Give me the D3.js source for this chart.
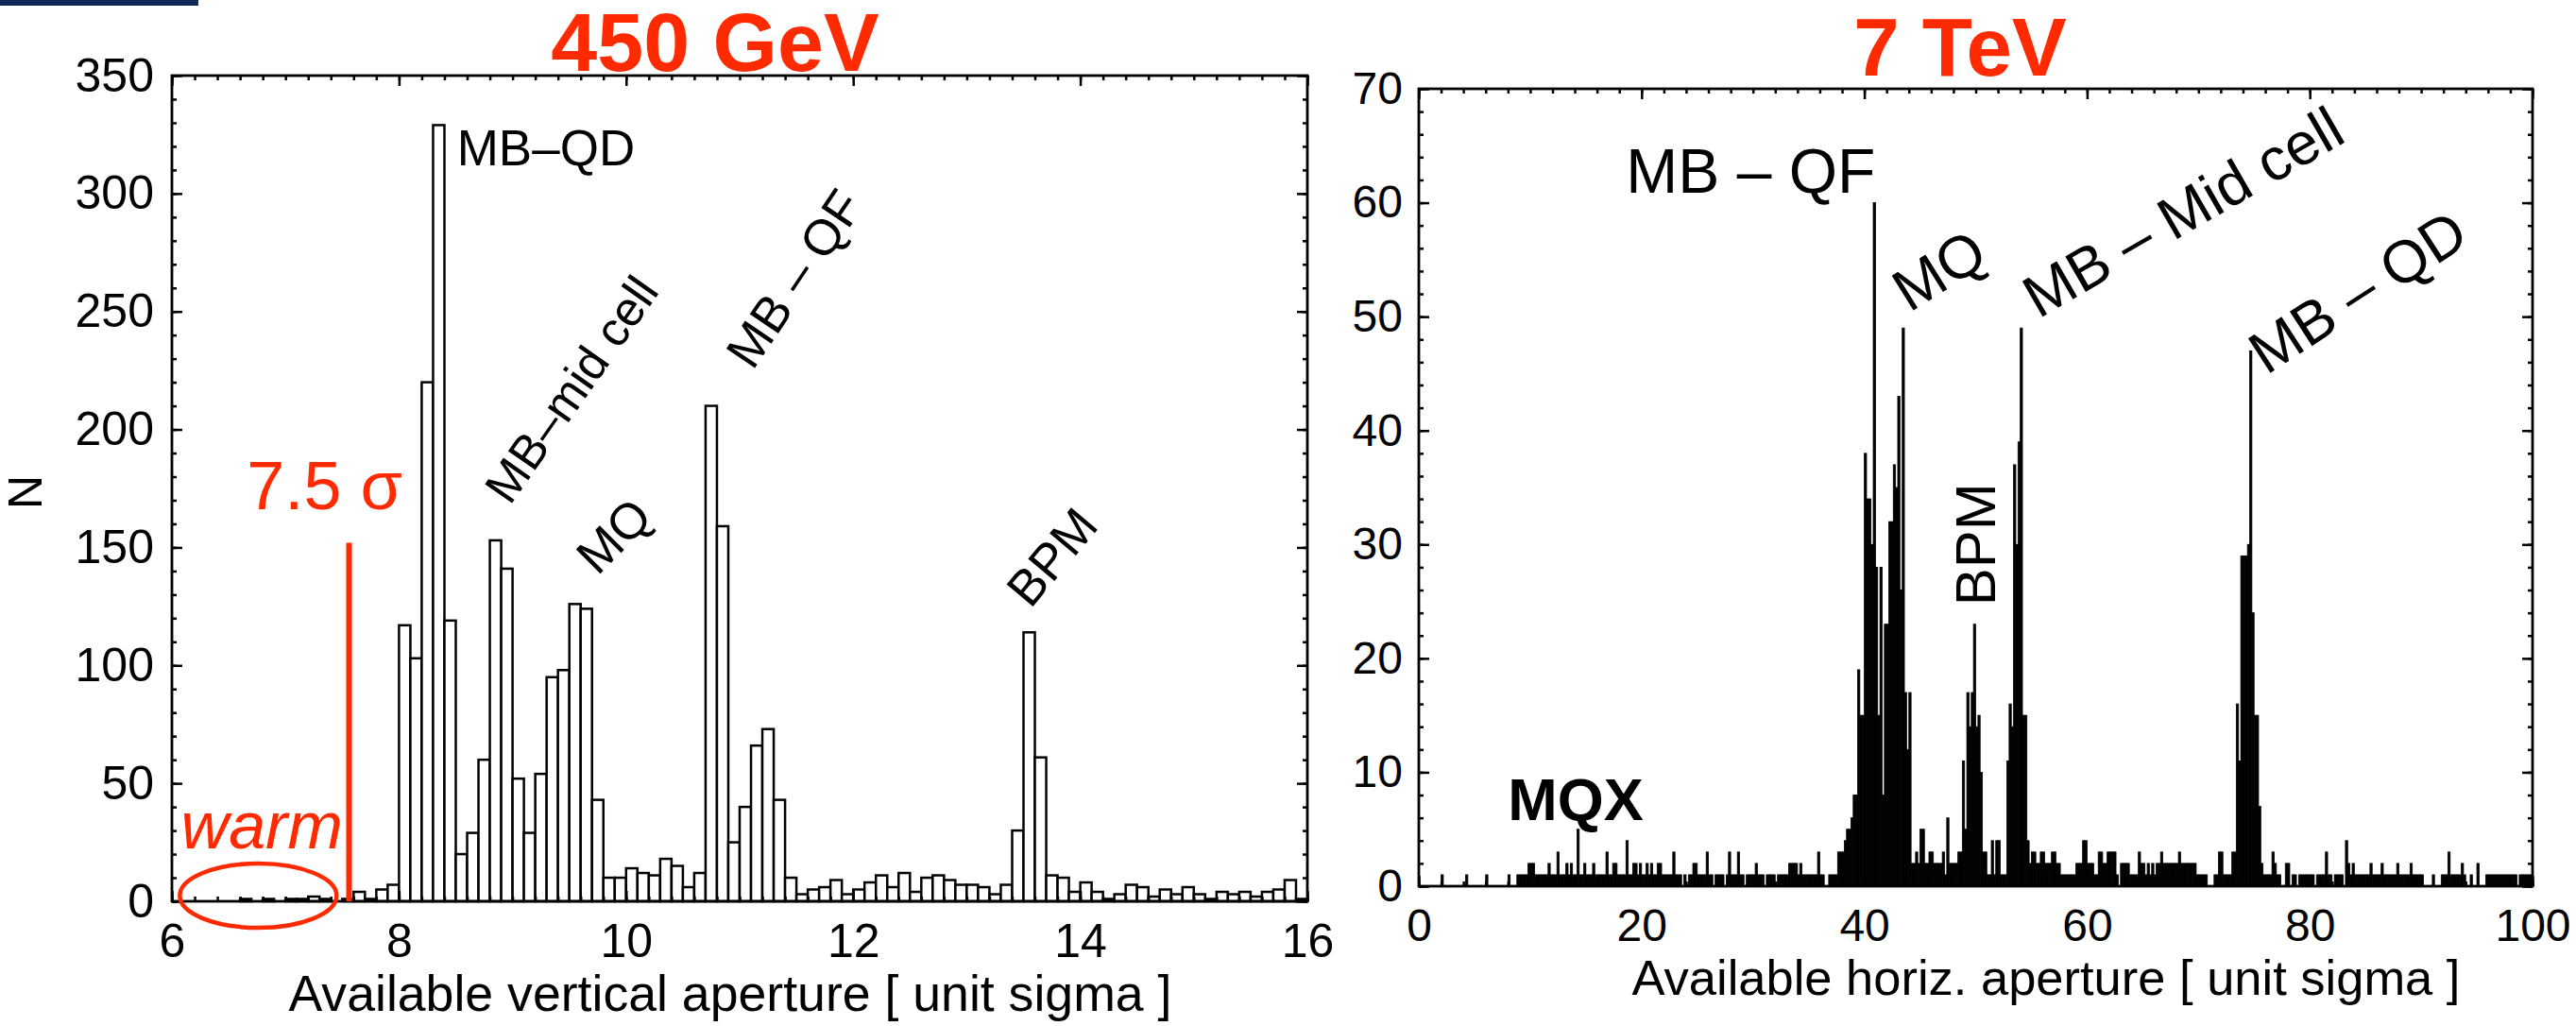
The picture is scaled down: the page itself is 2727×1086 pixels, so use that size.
<!DOCTYPE html>
<html>
<head>
<meta charset="utf-8">
<script src="https://cdn.jsdelivr.net/npm/d3@7"></script>
<style>
  html, body { margin: 0; padding: 0; background: #fff; }
  svg { display: block; font-family: "Liberation Sans", Arial, Helvetica, sans-serif; }
</style>
</head>
<body>
<svg id="chart" width="2727" height="1086"></svg>
<script>
// ---- data ----

// 450 GeV: counts per 0.1 sigma bin, bins [6.0, 6.1), [6.1, 6.2) ... [15.9, 16.0)
const vertStart = 6.0;
const vertStep = 0.1;
const vertCounts = [
  0, 0, 0, 0, 0, 0, 1, 0, 1, 0,
  1, 1, 2, 1, 0, 1, 4, 1, 5, 7,
  117, 103, 220, 329, 119, 20, 29, 60, 153, 141,
  52, 29, 54, 95, 98, 126, 124, 43, 10, 10,
  14, 12, 11, 18, 15, 6, 12, 210, 159, 25,
  40, 66, 73, 43, 10, 3, 5, 6, 9, 3,
  5, 8, 11, 6, 12, 4, 10, 11, 9, 7,
  7, 6, 3, 7, 30, 114, 61, 11, 10, 4,
  8, 4, 1, 3, 7, 6, 2, 5, 3, 6,
  3, 1, 4, 3, 4, 2, 4, 5, 9, 1
];

// 7 TeV: counts per 0.2 sigma bin, bins [0, 0.2), [0.2, 0.4) ... up to 100
const horizStep = 0.2;
const horizCounts = [
  // 0 - 10
  0,0,0,0,0,0,0,0,0,0, 1,0,0,0,0,0,0,0,0,0, 0,1,0,0,0,0,0,0,0,0, 1,0,0,0,0,0,0,0,0,0, 1,0,0,0,1,1,1,1,1,2,
  // 10 - 20
  2,2,1,1,1,1,1,1,2,1, 1,1,3,1,1,1,2,1,2,1, 1,5,1,1,2,1,1,1,2,1, 1,1,1,1,3,1,1,2,2,1, 1,1,1,4,1,1,2,2,1,2,
  // 20 - 30
  1,1,2,1,2,1,1,2,2,1, 1,1,1,1,3,1,1,1,0,1, 0,1,1,2,2,1,1,1,1,3, 1,1,0,1,1,1,1,0,1,3, 1,1,1,3,1,1,0,1,1,1,
  // 30 - 40
  1,2,1,1,1,0,1,1,1,1, 0,1,1,1,1,1,2,2,2,2, 1,2,1,1,1,1,1,1,1,3, 1,1,0,0,1,1,1,1,3,3, 3,4,5,5,6,8,8,19,15,15,
  // 40 - 50
  38,34,34,30,60,28,15,28,8,23, 23,32,32,37,35,43,26,49,17,12, 17,2,2,3,2,5,5,2,2,3, 3,2,2,2,2,3,1,6,2,2, 2,2,3,3,11,5,17,14,17,23,
  // 50 - 60
  14,15,10,3,3,1,1,4,1,4, 4,1,1,1,11,16,14,37,30,39, 49,15,15,4,2,3,3,2,2,3, 3,2,2,2,3,3,2,2,1,1, 1,1,1,1,1,2,2,2,4,4,
  // 60 - 70
  2,2,2,1,1,3,3,2,2,3, 3,3,3,1,0,2,2,2,2,1, 1,1,1,3,2,2,1,2,1,2, 1,2,2,3,2,2,2,2,2,2, 2,3,2,2,2,2,2,2,2,1,
  // 70 - 80
  1,1,1,1,0,0,0,1,1,3, 3,1,1,1,1,3,3,16,11,29, 29,29,30,47,24,15,15,7,2,1, 1,1,1,3,2,1,1,0,0,2, 2,0,1,1,0,1,1,1,1,1,
  // 80 - 90
  1,1,0,1,1,1,1,3,1,1, 0,1,1,1,1,0,4,2,1,2, 1,1,1,1,1,1,1,2,1,1, 1,1,2,1,1,1,1,1,1,2, 1,1,1,1,1,2,1,1,1,1,
  // 90 - 100
  1,0,0,0,0,1,0,0,0,1, 1,1,3,1,1,1,1,1,2,1, 0,0,1,0,0,2,0,0,0,1, 1,1,1,1,1,1,1,1,1,1, 1,1,1,0,1,1,1,1,1,1
];

const vertTicksX = [6, 8, 10, 12, 14, 16];
const vertTicksY = [0, 50, 100, 150, 200, 250, 300, 350];
const horizTicksX = [0, 20, 40, 60, 80, 100];
const horizTicksY = [0, 10, 20, 30, 40, 50, 60, 70];

const titles = ["450 GeV", "7 TeV"];
const xTitles = ["Available vertical aperture [ unit sigma ]", "Available horiz. aperture [ unit sigma ]"];

// labels placed in data units of their panel
const vertLabels = [
  { text: "MB\u2013QD", x: 8.51, y: 312, angle: 0, anchor: "start" },
  { text: "MB\u2013mid cell", x: 9.52, y: 217, angle: -55, size: 51 },
  { text: "MB \u2013 QF", x: 11.48, y: 264, angle: -56 },
  { text: "MQ", x: 9.89, y: 155, angle: -45 },
  { text: "BPM", x: 13.75, y: 146, angle: -50 }
];
const horizLabels = [
  { text: "MB \u2013 QF", x: 18.6, y: 60.9, angle: 0, anchor: "start", size: 66 },
  { text: "MQ", x: 46.7, y: 54.1, angle: -32 },
  { text: "MB \u2013 Mid cell", x: 68.6, y: 59.2, angle: -30 },
  { text: "MB \u2013 QD", x: 84.3, y: 52.2, angle: -33 },
  { text: "BPM", x: 50.0, y: 30.0, angle: -90, size: 60 },
  { text: "MQX", x: 8.0, y: 5.8, angle: 0, anchor: "start", bold: true, size: 63 }
];

const cutSigma = 7.56;   // red 7.5 sigma line
const cutHeight = 152;

// ---- drawing ----
const red = "#ff2a00";
const svg = d3.select("#chart");

// dark band at the very top left
svg.append("rect").attr("x", 0).attr("y", 0).attr("width", 210).attr("height", 6).attr("fill", "#10285a");

function panel(opt) {
  const x = d3.scaleLinear().domain(opt.xDomain).range([opt.left, opt.right]);
  const y = d3.scaleLinear().domain(opt.yDomain).range([opt.bottom, opt.top]);
  const g = svg.append("g");

  opt.drawBars(g, x, y);

  const axes = g.append("g").attr("class", "axes");
  const majLen = 11, minLen = 5;
  const minorX = d3.range(opt.xDomain[0], opt.xDomain[1] + 1e-9, opt.xMinor);
  const minorY = d3.range(opt.yDomain[0], opt.yDomain[1] + 1e-9, opt.yMinor);

  // bottom, labelled
  axes.append("g").attr("transform", `translate(0,${opt.bottom})`)
    .call(d3.axisBottom(x).tickValues(minorX).tickSize(-minLen).tickFormat(""));
  axes.append("g").attr("class", "xlab").attr("transform", `translate(0,${opt.bottom})`)
    .call(d3.axisBottom(x).tickValues(opt.xTicks).tickSize(-majLen).tickPadding(opt.xPad).tickFormat(d3.format("d")));
  // top, mirrored
  axes.append("g").attr("transform", `translate(0,${opt.top})`)
    .call(d3.axisTop(x).tickValues(minorX).tickSize(-minLen).tickFormat(""));
  axes.append("g").attr("transform", `translate(0,${opt.top})`)
    .call(d3.axisTop(x).tickValues(opt.xTicks).tickSize(-majLen).tickFormat(""));
  // left, labelled
  axes.append("g").attr("transform", `translate(${opt.left},0)`)
    .call(d3.axisLeft(y).tickValues(minorY).tickSize(-minLen).tickFormat(""));
  axes.append("g").attr("class", "ylab").attr("transform", `translate(${opt.left},0)`)
    .call(d3.axisLeft(y).tickValues(opt.yTicks).tickSize(-majLen).tickPadding(opt.yPad).tickFormat(d3.format("d")));
  // right, mirrored
  axes.append("g").attr("transform", `translate(${opt.right},0)`)
    .call(d3.axisRight(y).tickValues(minorY).tickSize(-minLen).tickFormat(""));
  axes.append("g").attr("transform", `translate(${opt.right},0)`)
    .call(d3.axisRight(y).tickValues(opt.yTicks).tickSize(-majLen).tickFormat(""));

  axes.selectAll(".domain").remove();
  axes.selectAll(".tick line").attr("stroke", "#000").attr("stroke-width", 2.5);
  axes.selectAll(".tick text").attr("fill", "#000").style("font-size", opt.tickFont + "px")
    .style("font-family", "'Liberation Sans', Arial, sans-serif");

  g.append("rect")
    .attr("x", opt.left).attr("y", opt.top)
    .attr("width", opt.right - opt.left).attr("height", opt.bottom - opt.top)
    .attr("fill", "none").attr("stroke", "#000").attr("stroke-width", 2.8);

  // panel title
  svg.append("text")
    .attr("x", opt.titleX).attr("y", opt.titleY)
    .attr("text-anchor", "middle")
    .attr("fill", red)
    .style("font-weight", "bold")
    .style("font-size", opt.titleFont + "px")
    .text(opt.title);

  // x axis title, fitted to the measured width
  const xt = svg.append("text")
    .attr("x", opt.xTitleX).attr("y", opt.xTitleY)
    .attr("text-anchor", "middle")
    .style("font-size", "46px")
    .text(opt.xTitle);
  const w = xt.node().getComputedTextLength();
  xt.style("font-size", (46 * opt.xTitleW / w).toFixed(2) + "px");

  // labels
  opt.labels.forEach(l => {
    g.append("text")
      .attr("transform", `translate(${x(l.x)},${y(l.y)}) rotate(${l.angle})`)
      .attr("text-anchor", l.anchor || "middle")
      .attr("dominant-baseline", l.anchor ? "auto" : "central")
      .style("font-size", (l.size || opt.labelFont) + "px")
      .style("font-weight", l.bold ? "bold" : "normal")
      .text(l.text);
  });
  return { g, x, y };
}

// left: 450 GeV
const left = panel({
  xDomain: [6, 16], yDomain: [0, 350],
  left: 182, right: 1384, top: 80, bottom: 954,
  xTicks: vertTicksX, yTicks: vertTicksY, xMinor: 0.2, yMinor: 10,
  xPad: 23, yPad: 19, tickFont: 50,
  title: titles[0], titleX: 757, titleY: 75, titleFont: 88,
  xTitle: xTitles[0], xTitleX: 773, xTitleY: 1070, xTitleW: 935,
  labelFont: 53,
  labels: vertLabels,
  drawBars: (g, x, y) => {
    const bins = vertCounts.map((n, i) => {
      const x0 = vertStart + i * vertStep;
      return { x0, x1: x0 + vertStep, n };
    }).filter(d => d.n > 0);
    g.append("g").selectAll("rect").data(bins).join("rect")
      .attr("x", d => x(d.x0)).attr("width", d => x(d.x1) - x(d.x0))
      .attr("y", d => y(d.n)).attr("height", d => y(0) - y(d.n))
      .attr("fill", "#fff").attr("stroke", "#000").attr("stroke-width", 2.5);
  }
});

// red 7.5 sigma cut, "warm" marker
left.g.append("line")
  .attr("x1", left.x(cutSigma)).attr("x2", left.x(cutSigma))
  .attr("y1", left.y(0)).attr("y2", left.y(cutHeight))
  .attr("stroke", red).attr("stroke-width", 6);
left.g.append("text")
  .attr("x", left.x(6.66)).attr("y", left.y(166))
  .attr("fill", red).style("font-size", "72px")
  .text("7.5 \u03c3");
left.g.append("text")
  .attr("x", left.x(6.08)).attr("y", left.y(22.4))
  .attr("fill", red).style("font-size", "70px").style("font-style", "italic")
  .text("warm");
left.g.append("ellipse")
  .attr("cx", left.x(6.76)).attr("cy", left.y(2.4))
  .attr("rx", 83).attr("ry", 34)
  .attr("fill", "none").attr("stroke", red).attr("stroke-width", 4.5);

// y axis title
svg.append("text")
  .attr("transform", "translate(27,521) rotate(-90)")
  .attr("text-anchor", "middle").attr("dominant-baseline", "central")
  .style("font-size", "50px")
  .text("N");

// right: 7 TeV
panel({
  xDomain: [0, 100], yDomain: [0, 70],
  left: 1502, right: 2681, top: 94, bottom: 938,
  xTicks: horizTicksX, yTicks: horizTicksY, xMinor: 2, yMinor: 2,
  xPad: 24, yPad: 17, tickFont: 48,
  title: titles[1], titleX: 2075, titleY: 80, titleFont: 87,
  xTitle: xTitles[1], xTitleX: 2166, xTitleY: 1053, xTitleW: 877,
  labelFont: 63,
  labels: horizLabels,
  drawBars: (g, x, y) => {
    const bins = horizCounts.map((n, i) => ({ x0: i * horizStep, x1: (i + 1) * horizStep, n }))
      .filter(d => d.n > 0);
    g.append("g").selectAll("rect").data(bins).join("rect")
      .attr("x", d => x(d.x0)).attr("width", d => x(d.x1) - x(d.x0))
      .attr("y", d => y(d.n)).attr("height", d => y(0) - y(d.n))
      .attr("fill", "#000").attr("stroke", "#000").attr("stroke-width", 0.8);
  }
});
</script>
</body>
</html>
